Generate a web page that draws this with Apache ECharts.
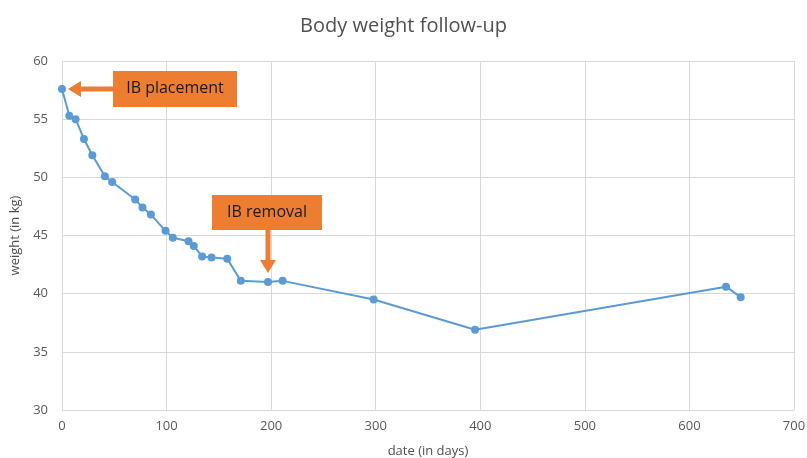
<!DOCTYPE html>
<html lang="en" style="height: 100%">

<head>
  <meta charset="UTF-8" />
  <title>Body weight follow-up</title>
  <script src="https://cdn.jsdelivr.net/npm/echarts@6/dist/echarts.min.js"></script>
</head>

<body style="height: 100%; margin: 0; background: #fff">
  <div id="main" style="width: 807px; height: 458px"></div>
  <script type="text/javascript">
    // data
    var days = [0, 7, 13, 21, 29, 41, 48, 70, 77, 85, 99, 106, 121, 126, 134, 143, 158, 171, 197, 211, 298, 395, 635, 649];
    var weights = [57.6, 55.3, 55.0, 53.3, 51.9, 50.1, 49.6, 48.1, 47.4, 46.8, 45.4, 44.8, 44.5, 44.1, 43.2, 43.1, 43.0, 41.1, 41.0, 41.1, 39.5, 36.9, 40.6, 39.7];
    var placementIdx = 0;   // IB placement
    var removalIdx = 18;    // IB removal

    var font = "'Open Sans', sans-serif";
    var orange = '#ED7D31';

    var myChart = echarts.init(document.getElementById('main'));

    var points = days.map(function (d, i) { return [d, weights[i]]; });

    var option = {
      animation: false,
      title: {
        text: 'Body weight follow-up',
        left: 'center',
        top: 11,
        textStyle: { fontFamily: font, fontSize: 20, fontWeight: 'normal', color: '#505050' }
      },
      grid: { left: 62, right: 13, top: 61, bottom: 48, outerBoundsMode: 'none' },
      xAxis: {
        type: 'value',
        min: 0, max: 700, interval: 100,
        name: 'date (in days)',
        nameLocation: 'middle',
        nameGap: 35,
        nameTextStyle: { fontFamily: font, fontSize: 13, color: '#505050' },
        axisLine: { show: true, lineStyle: { color: '#d9d9d9' } },
        axisTick: { show: false },
        axisLabel: { fontFamily: font, fontSize: 13, color: '#595959', margin: 10 },
        splitLine: { show: true, lineStyle: { color: '#d9d9d9' } }
      },
      yAxis: {
        type: 'value',
        min: 30, max: 60, interval: 5,
        name: 'weight (in kg)',
        nameLocation: 'middle',
        nameGap: 37,
        nameTextStyle: { fontFamily: font, fontSize: 13, color: '#505050' },
        axisLine: { show: true, lineStyle: { color: '#d9d9d9' } },
        axisTick: { show: false },
        axisLabel: { fontFamily: font, fontSize: 13, color: '#595959', margin: 14 },
        splitLine: { show: true, lineStyle: { color: '#d9d9d9' } }
      },
      series: [
        {
          type: 'line',
          data: points,
          symbol: 'circle',
          symbolSize: 8,
          lineStyle: { color: '#5B9BD5', width: 2 },
          itemStyle: { color: '#5B9BD5' }
        }
      ]
    };
    myChart.setOption(option);

    // annotations anchored to data points
    var p0 = myChart.convertToPixel({ gridIndex: 0 }, points[placementIdx]);
    var p1 = myChart.convertToPixel({ gridIndex: 0 }, points[removalIdx]);

    var tx = p0[0] + 6, ty = p0[1];
    var boxL = tx + 45;
    var leftArrow = [
      [tx, ty], [tx + 13, ty - 8], [tx + 13, ty - 2.5], [boxL, ty - 2.5],
      [boxL, ty + 2.5], [tx + 13, ty + 2.5], [tx + 13, ty + 8]
    ];

    var dx = p1[0], dy = p1[1] - 9;
    var boxB = dy - 43;
    var downArrow = [
      [dx, dy], [dx - 8, dy - 13], [dx - 2.5, dy - 13], [dx - 2.5, boxB],
      [dx + 2.5, boxB], [dx + 2.5, dy - 13], [dx + 8, dy - 13]
    ];

    myChart.setOption({
      graphic: [
        { type: 'polygon', shape: { points: leftArrow }, style: { fill: orange } },
        { type: 'rect', shape: { x: boxL, y: ty - 18, width: 124, height: 36 }, style: { fill: orange } },
        {
          type: 'text', x: boxL + 62, y: ty,
          style: { text: 'IB placement', fill: '#1a1a1a', font: '16px ' + font, textAlign: 'center', textVerticalAlign: 'middle' }
        },
        { type: 'polygon', shape: { points: downArrow }, style: { fill: orange } },
        { type: 'rect', shape: { x: dx - 56, y: boxB - 35, width: 110, height: 35 }, style: { fill: orange } },
        {
          type: 'text', x: dx - 1, y: boxB - 17.5,
          style: { text: 'IB removal', fill: '#1a1a1a', font: '16px ' + font, textAlign: 'center', textVerticalAlign: 'middle' }
        }
      ]
    });

    window.addEventListener('resize', myChart.resize);
  </script>
</body>

</html>
